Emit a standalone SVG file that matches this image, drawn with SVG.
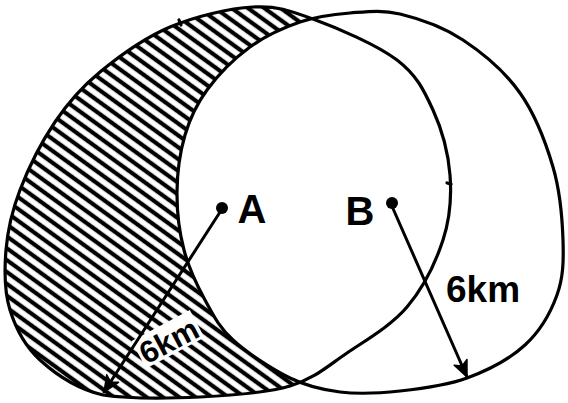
<svg xmlns="http://www.w3.org/2000/svg" width="568" height="403" viewBox="0 0 568 403">
<style>
.outline{fill:none;stroke:#000;stroke-width:3.2;stroke-linejoin:round;stroke-linecap:round}
.lbl{font-family:"Liberation Sans",Arial,sans-serif;fill:#000;font-weight:bold}
.conn{stroke:#000;stroke-width:3;fill:none;stroke-linecap:round}
.dot{fill:#000}
</style>
<defs>
<pattern id="hatch" patternUnits="userSpaceOnUse" width="10" height="9.6" patternTransform="rotate(36)">
<rect width="10" height="9.6" fill="#fff"/>
<line x1="0" y1="4.8" x2="10" y2="4.8" stroke="#000" stroke-width="4.2"/>
</pattern>
<path id="shapeA" d="M253,7 C276.8,5.7 289,10.2 313,19 C337,27.8 377,44.8 397,60 C417,75.2 424.2,90.8 433,110 C441.8,129.2 448.3,153.3 450,175 C451.7,196.7 450.2,218 443,240 C435.8,262 423,288.2 407,307 C391,325.8 366.5,339.8 347,353 C327.5,366.2 314.5,378.7 290,386 C265.5,393.3 231.2,395.5 200,397 C168.8,398.5 129.7,399 103,395 C76.3,388.8 55.5,374.2 40,360 C24.5,345.8 15.7,328.3 10,310 C4.3,291.7 4.3,270 6,250 C7.7,230 11.8,211.3 20,190 C28.2,168.7 41.7,141.7 55,122 C68.3,102.3 80.8,87.8 100,72 C119.2,56.2 144.5,37.8 170,27 C195.5,16.2 229.2,8.3 253,7 Z"/>
<path id="shapeB" d="M350,13 C366.7,11.7 381.2,9.5 400,14 C418.8,18.5 443,26.8 463,40 C483,53.2 505,71.8 520,93 C535,114.2 545.8,142.5 553,167 C560.2,191.5 562.3,218.7 563,240 C563.7,261.3 563.3,277.5 557,295 C550.7,312.5 540,331.2 525,345 C510,358.8 487.8,370.3 467,378 C446.2,385.7 421.2,388.7 400,391 C378.8,393.3 358.3,394.2 340,392 C321.7,389.8 307.8,386.7 290,378 C272.2,369.3 247.2,353 233,340 C218.8,327 213.2,315 205,300 C196.8,285 188.7,268 184,250 C179.3,232 176.8,211.2 177,192 C177.2,172.8 180,152 185,135 C190,118 196.2,104.7 207,90 C217.8,75.3 234.5,58.3 250,47 C265.5,35.7 283.3,27.7 300,22 C316.7,16.3 333.3,14.3 350,13 Z"/>
<marker id="head" markerUnits="userSpaceOnUse" markerWidth="20" markerHeight="20" refX="0" refY="0" viewBox="-18 -10 20 20" orient="auto">
<path d="M0,0 L-16,-7 L-12,0 L-16,7 Z" fill="#000" stroke="#000" stroke-width="1.5" stroke-linejoin="round"/>
</marker>
</defs>
<rect width="568" height="403" fill="#fff"/>
<g id="region-hatched">
<use href="#shapeA" fill="url(#hatch)"/>
<use href="#shapeB" fill="#fff"/>
<rect x="-33" y="-22" width="66" height="31" fill="#fff" transform="translate(171,345) rotate(-28)"/>
</g>
<g id="circle-A">
<use href="#shapeA" class="outline"/>
<path class="outline" d="M179,20 L181,25"/>
<path class="outline" d="M447,183 L451,184"/>
</g>
<g id="circle-B">
<use href="#shapeB" class="outline"/>
</g>
<g id="connectors">
<line class="conn" x1="222" y1="209" x2="104" y2="392" marker-end="url(#head)"/>
<line class="conn" x1="391" y1="204" x2="467" y2="377" marker-end="url(#head)"/>
</g>
<g id="node-A">
<circle class="dot" cx="222" cy="208" r="6"/>
<text class="lbl" x="252" y="223" font-size="40" text-anchor="middle">A</text>
</g>
<g id="node-B">
<circle class="dot" cx="392" cy="203" r="6"/>
<text class="lbl" x="360" y="225" font-size="40" text-anchor="middle">B</text>
</g>
<g id="labels">
<text class="lbl" x="0" y="6" font-size="31" text-anchor="middle" transform="translate(171,345) rotate(-28)">6km</text>
<text class="lbl" x="446" y="302" font-size="37">6km</text>
</g>
</svg>
